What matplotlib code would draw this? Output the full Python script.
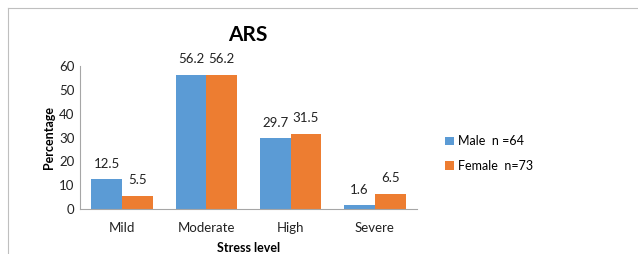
import matplotlib.pyplot as plt
import numpy as np
from matplotlib.lines import Line2D

# данные графика
levels = ["Mild", "Moderate", "High", "Severe"]
male = [12.5, 56.2, 29.7, 1.6]
female = [5.5, 56.2, 31.5, 6.5]
series_names = ["Male  n =64", "Female  n=73"]
yticks = [0, 10, 20, 30, 40, 50, 60]

plt.rcParams["font.family"] = ["Lato", "DejaVu Sans"]

fig = plt.figure(figsize=(6.38, 2.54), dpi=100)
ax = fig.add_axes([0.1254, 0.177, 0.528, 0.563])

x = np.arange(len(levels))
w = 0.365
b1 = ax.bar(x - w / 2, male, width=w, color="#5B9BD5", label=series_names[0])
b2 = ax.bar(x + w / 2, female, width=w, color="#ED7D31", label=series_names[1])
ax.bar_label(b1, [f"{v}" for v in male], padding=7, fontsize=9.5, color="#222222")
ax.bar_label(b2, [f"{v}" for v in female], padding=7, fontsize=9.5, color="#222222")

ax.set_xlim(-0.5, 3.5)
ax.set_ylim(0, 60)
ax.set_yticks(yticks)
ax.set_xticks(x, levels)
ax.tick_params(length=0, labelsize=9.5, colors="#222222")
ax.tick_params(axis="y", pad=4)
ax.tick_params(axis="x", pad=9)
for s in ["top", "right"]:
    ax.spines[s].set_visible(False)
for s in ["left", "bottom"]:
    ax.spines[s].set_color("#a6a6a6")
    ax.spines[s].set_linewidth(0.8)

ax.set_xlabel("Stress level", fontsize=9, fontweight="bold", labelpad=6)
ax.set_ylabel("Percentage", fontsize=9, fontweight="bold", labelpad=3)
fig.text(0.389, 0.862, "ARS", ha="center", va="center", fontsize=15, fontweight="bold")

fig.legend(loc="center left", bbox_to_anchor=(0.68, 0.395), frameon=False,
           fontsize=9, handlelength=0.7, handleheight=0.7, handletextpad=0.3,
           labelspacing=1.0)

# рамка
fig.add_artist(Line2D([0.013, 0.013], [0, 0.969], color="#bfbfbf", lw=0.8))
fig.add_artist(Line2D([0.013, 1.0], [0.969, 0.969], color="#bfbfbf", lw=0.8))

fig.savefig("out.png", dpi=100)
